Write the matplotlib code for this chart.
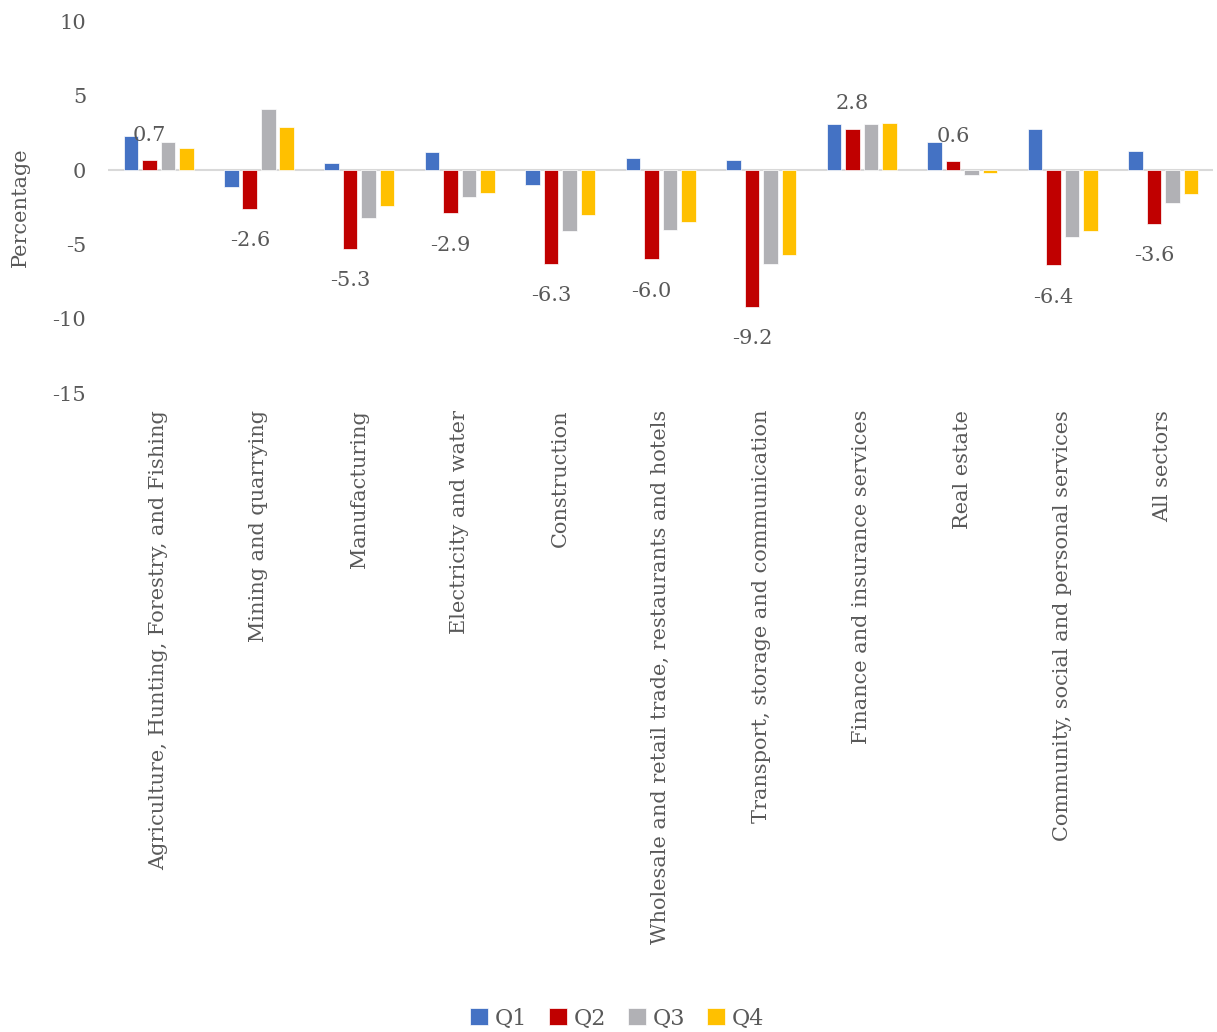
import numpy as np
import matplotlib.pyplot as plt

sectors = ["Agriculture, Hunting, Forestry, and Fishing", "Mining and quarrying",
           "Manufacturing", "Electricity and water", "Construction",
           "Wholesale and retail trade, restaurants and hotels",
           "Transport, storage and communication", "Finance and insurance services",
           "Real estate", "Community, social and personal services", "All sectors"]
q1 = [2.3, -1.1, 0.5, 1.2, -1.0, 0.8, 0.7, 3.1, 1.9, 2.8, 1.3]
q2 = [0.7, -2.6, -5.3, -2.9, -6.3, -6.0, -9.2, 2.8, 0.6, -6.4, -3.6]
q3 = [1.9, 4.1, -3.2, -1.8, -4.1, -4.0, -6.3, 3.1, -0.3, -4.5, -2.2]
q4 = [1.5, 2.9, -2.4, -1.5, -3.0, -3.5, -5.7, 3.2, -0.2, -4.1, -1.6]

plt.rcParams['font.family'] = ['DejaVu Serif']
plt.rcParams['axes.unicode_minus'] = False
txt = '#595959'

fig = plt.figure(figsize=(12.17, 10.32), dpi=100)
ax = fig.add_axes([0.089, 0.619, 0.908, 0.36])

x = np.arange(len(sectors))
w = 0.145
step = 0.184
series = [("Q1", q1, '#4472C4'), ("Q2", q2, '#C00000'),
          ("Q3", q3, '#B1B1B5'), ("Q4", q4, '#FFC000')]
for i, (name, vals, col) in enumerate(series):
    ax.bar(x + (i - 1.5) * step, vals, width=w, color=col, label=name,
           edgecolor='white', linewidth=0.5, zorder=2)

# data labels on Q2
for xi, v in zip(x, q2):
    off = 11 if v > 0 else -16
    ax.annotate(f"{v:.1f}", (xi - 0.5 * step, v), xytext=(0, off),
                textcoords='offset points', ha='center',
                va='bottom' if v > 0 else 'top', fontsize=15, color=txt)

ax.axhline(0, color='#D9D9D9', linewidth=1.5, zorder=1)
ax.set_xlim(-0.5, len(sectors) - 0.5)
ax.set_ylim(-15, 10)
ax.set_yticks([-15, -10, -5, 0, 5, 10])
ax.set_xticks(x)
ax.set_xticklabels(sectors, rotation=90, fontsize=15, color=txt)
ax.tick_params(axis='y', labelsize=15, labelcolor=txt, length=0, pad=16)
ax.tick_params(axis='x', length=0, pad=12)
for s in ax.spines.values():
    s.set_visible(False)
ax.set_ylabel("Percentage", fontsize=15, color=txt, labelpad=16)

fig.legend(loc='lower center', ncol=4, frameon=False, fontsize=16,
           handlelength=0.8, handleheight=0.8, handletextpad=0.3,
           columnspacing=1.0, bbox_to_anchor=(0.507, -0.017), labelcolor=txt)

fig.savefig("out.png", dpi=100)
